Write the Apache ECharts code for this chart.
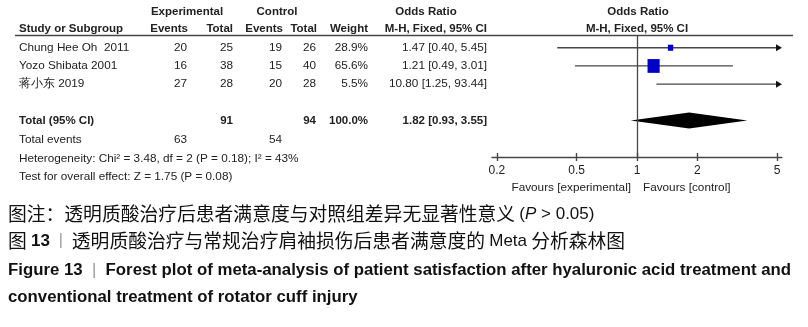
<!DOCTYPE html>
<html>
<head>
<meta charset="utf-8">
<script src="https://cdn.jsdelivr.net/npm/echarts@6/dist/echarts.min.js"></script>
<style>
  html, body { margin: 0; padding: 0; background: #fff; }
  #chart { width: 808px; height: 327px; }
</style>
</head>
<body>
<div id="chart"></div>
<script>
// study rows
var studies = ['Chung Hee Oh  2011', 'Yozo Shibata 2001', '蒋小东 2019'];
var expEvents = [20, 16, 27];
var expTotal = [25, 38, 28];
var ctrlEvents = [19, 15, 20];
var ctrlTotal = [26, 40, 28];
var weights = [28.9, 65.6, 5.5];
var oddsRatio = [1.47, 1.21, 10.80];
var ciLow = [0.40, 0.49, 1.25];
var ciHigh = [5.45, 3.01, 93.44];

// pooled result
var totalExp = 91;
var totalCtrl = 94;
var totalWeight = 100.0;
var totalOR = 1.82;
var totalLow = 0.93;
var totalHigh = 3.55;
var eventsExp = 63;
var eventsCtrl = 54;

var tickValues = [0.2, 0.5, 1, 2, 5];

var TXT = '#222';
var LINE = '#474747';
var FONT = 'Liberation Sans, Arial, sans-serif';
var fNorm = '11.75px ' + FONT;
var fBold = 'bold 11.5px ' + FONT;

// table columns (right edges)
var colX = { study: 19, expEv: 187, expTot: 233, ctrlEv: 282, ctrlTot: 316, weight: 368, or: 487 };

function ciText(o, l, h) {
    return o.toFixed(2) + ' [' + l.toFixed(2) + ', ' + h.toFixed(2) + ']';
}

function txt(x, y, s, align, font) {
    return { type: 'text', style: { x: x, y: y, text: s, align: align, verticalAlign: 'middle', font: font, fill: TXT } };
}

function rowTexts(y, cells, font) {
    return [
        txt(colX.study, y, cells[0], 'left', font),
        txt(colX.expEv, y, cells[1], 'right', font),
        txt(colX.expTot, y, cells[2], 'right', font),
        txt(colX.ctrlEv, y, cells[3], 'right', font),
        txt(colX.ctrlTot, y, cells[4], 'right', font),
        txt(colX.weight, y, cells[5], 'right', font),
        txt(colX.or, y, cells[6], 'right', font)
    ];
}

function renderStudy(params, api) {
    var i = api.value(5);
    var row = api.value(1);
    var cs = params.coordSys;
    var xl = cs.x, xr = cs.x + cs.width;
    var y = api.coord([1, row])[1];
    var pLo = api.coord([api.value(2), row])[0];
    var pHi = api.coord([api.value(3), row])[0];
    var pMid = api.coord([api.value(0), row])[0];
    var children = [];
    var a = Math.max(pLo, xl), b = Math.min(pHi, xr);
    children.push({ type: 'line', shape: { x1: a, y1: y, x2: pHi > xr ? b - 4 : b, y2: y }, style: { stroke: LINE, lineWidth: 1.3 } });
    if (pHi > xr) {
        children.push({ type: 'polygon', shape: { points: [[xr - 6, y - 3.5], [xr, y], [xr - 6, y + 3.5]] }, style: { fill: '#111' } });
    }
    if (pLo < xl) {
        children.push({ type: 'polygon', shape: { points: [[xl + 6, y - 3.5], [xl, y], [xl + 6, y + 3.5]] }, style: { fill: '#111' } });
    }
    if (pMid >= xl && pMid <= xr) {
        var w = api.value(4);
        var sw = w * 0.185, sh = w * 0.21;
        children.push({ type: 'rect', shape: { x: pMid - sw / 2, y: y - sh / 2, width: sw, height: sh }, style: { fill: '#0000c8' } });
    }
    children = children.concat(rowTexts(y, [
        studies[i], String(expEvents[i]), String(expTotal[i]), String(ctrlEvents[i]), String(ctrlTotal[i]),
        weights[i].toFixed(1) + '%', ciText(oddsRatio[i], ciLow[i], ciHigh[i])
    ], fNorm));
    return { type: 'group', children: children };
}

function renderTotal(params, api) {
    var row = api.value(1);
    var y = api.coord([1, row])[1];
    var pLo = api.coord([api.value(2), row])[0];
    var pHi = api.coord([api.value(3), row])[0];
    var pMid = api.coord([api.value(0), row])[0];
    var children = [{
        type: 'polygon',
        shape: { points: [[pLo, y], [pMid, y - 8], [pHi, y], [pMid, y + 8]] },
        style: { fill: '#000' }
    }];
    children = children.concat(rowTexts(y, [
        'Total (95% CI)', '', String(totalExp), '', String(totalCtrl),
        totalWeight.toFixed(1) + '%', ciText(totalOR, totalLow, totalHigh)
    ], fBold));
    return { type: 'group', children: children };
}

var studyData = studies.map(function (s, i) {
    return [oddsRatio[i], i + 1, ciLow[i], ciHigh[i], weights[i], i];
});

var hdr = function (x, y, s, align) {
    return { type: 'text', x: x, y: y, style: { text: s, align: align, verticalAlign: 'middle', font: fBold, fill: TXT } };
};
var plain = function (x, y, s, align) {
    return { type: 'text', x: x, y: y, style: { text: s, align: align, verticalAlign: 'middle', font: fNorm, fill: TXT } };
};

var cjk = '"Noto Sans CJK SC", sans-serif';
var narrow = '"Liberation Sans Narrow", "Liberation Sans", sans-serif';

var option = {
    backgroundColor: '#fff',
    animation: false,
    grid: { left: 492, right: 26, top: 35, bottom: 170 },
    xAxis: [{
        type: 'log',
        logBase: 10,
        min: 0.189,
        max: 5.29,
        axisLine: { show: true, lineStyle: { color: LINE, width: 1.4 } },
        axisTick: { show: true, customValues: tickValues, length: 4, lineStyle: { color: LINE, width: 1.4 } },
        axisLabel: { customValues: tickValues, formatter: function (v) { return String(v); }, color: TXT, fontSize: 12, fontFamily: FONT, margin: 8 },
        splitLine: { show: false },
        minorTick: { show: false }
    }, {
        type: 'log',
        logBase: 10,
        min: 0.189,
        max: 5.29,
        position: 'bottom',
        axisLine: { show: false },
        axisTick: { show: true, inside: true, customValues: tickValues, length: 4, lineStyle: { color: LINE, width: 1.4 } },
        axisLabel: { show: false },
        splitLine: { show: false }
    }],
    yAxis: { type: 'value', inverse: true, min: 0.3, max: 7, show: false },
    series: [{
        type: 'custom',
        renderItem: renderStudy,
        data: studyData,
        encode: { x: 0, y: 1 },
        silent: true,
        markLine: {
            silent: true,
            symbol: 'none',
            label: { show: false },
            lineStyle: { color: LINE, width: 1.3, type: 'solid' },
            data: [{ xAxis: 1 }]
        }
    }, {
        type: 'custom',
        renderItem: renderTotal,
        data: [[totalOR, 5, totalLow, totalHigh]],
        encode: { x: 0, y: 1 },
        silent: true
    }],
    graphic: [
        hdr(187, 12, 'Experimental', 'center'),
        hdr(277, 12, 'Control', 'center'),
        hdr(426, 12, 'Odds Ratio', 'center'),
        hdr(638, 12, 'Odds Ratio', 'center'),
        hdr(19, 29, 'Study or Subgroup', 'left'),
        hdr(188, 29, 'Events', 'right'),
        hdr(233, 29, 'Total', 'right'),
        hdr(283, 29, 'Events', 'right'),
        hdr(317, 29, 'Total', 'right'),
        hdr(368, 29, 'Weight', 'right'),
        hdr(487, 29, 'M-H, Fixed, 95% CI', 'right'),
        hdr(637, 29, 'M-H, Fixed, 95% CI', 'center'),
        { type: 'line', shape: { x1: 15, y1: 35.5, x2: 793, y2: 35.5 }, style: { stroke: LINE, lineWidth: 1.3 } },
        plain(19, 140, 'Total events', 'left'),
        plain(colX.expEv, 140, String(eventsExp), 'right'),
        plain(colX.ctrlEv, 140, String(eventsCtrl), 'right'),
        plain(19, 159, 'Heterogeneity: Chi² = 3.48, df = 2 (P = 0.18); I² = 43%', 'left'),
        plain(19, 177, 'Test for overall effect: Z = 1.75 (P = 0.08)', 'left'),
        plain(631, 188, 'Favours [experimental]', 'right'),
        plain(643, 188, 'Favours [control]', 'left'),
        {
            type: 'text', x: 8, y: 214,
            style: {
                text: '{a|图注：透明质酸治疗后患者满意度与对照组差异无显著性意义 }{b|(}{i|P}{b| > 0.05)}',
                verticalAlign: 'middle', fill: '#111',
                rich: {
                    a: { font: '18.8px ' + cjk, fill: '#111' },
                    b: { font: '17px ' + narrow, fill: '#111' },
                    i: { font: 'italic 17px ' + narrow, fill: '#111' }
                }
            }
        },
        {
            type: 'text', x: 8, y: 241,
            style: {
                text: '{a|图 }{n|13}{s|  |  }{a|透明质酸治疗与常规治疗肩袖损伤后患者满意度的 }{b|Meta}{a| 分析森林图}',
                verticalAlign: 'middle', fill: '#111',
                rich: {
                    a: { font: '18.8px ' + cjk, fill: '#111' },
                    n: { font: 'bold 17px ' + narrow, fill: '#111' },
                    s: { font: '16px ' + narrow, fill: '#999' },
                    b: { font: '17px ' + narrow, fill: '#111' }
                }
            }
        },
        {
            type: 'text', x: 8, y: 270,
            style: {
                text: '{n|Figure 13}{s|  |  }{n|Forest plot of meta-analysis of patient satisfaction after hyaluronic acid treatment and}',
                verticalAlign: 'middle',
                rich: {
                    n: { font: 'bold 16.8px ' + narrow, fill: '#111' },
                    s: { font: '16.8px ' + narrow, fill: '#999' }
                }
            }
        },
        {
            type: 'text', x: 8, y: 297,
            style: { text: 'conventional treatment of rotator cuff injury', verticalAlign: 'middle', font: 'bold 16.8px ' + narrow, fill: '#111' }
        }
    ]
};

var chart = echarts.init(document.getElementById('chart'));
chart.setOption(option);
</script>
</body>
</html>
